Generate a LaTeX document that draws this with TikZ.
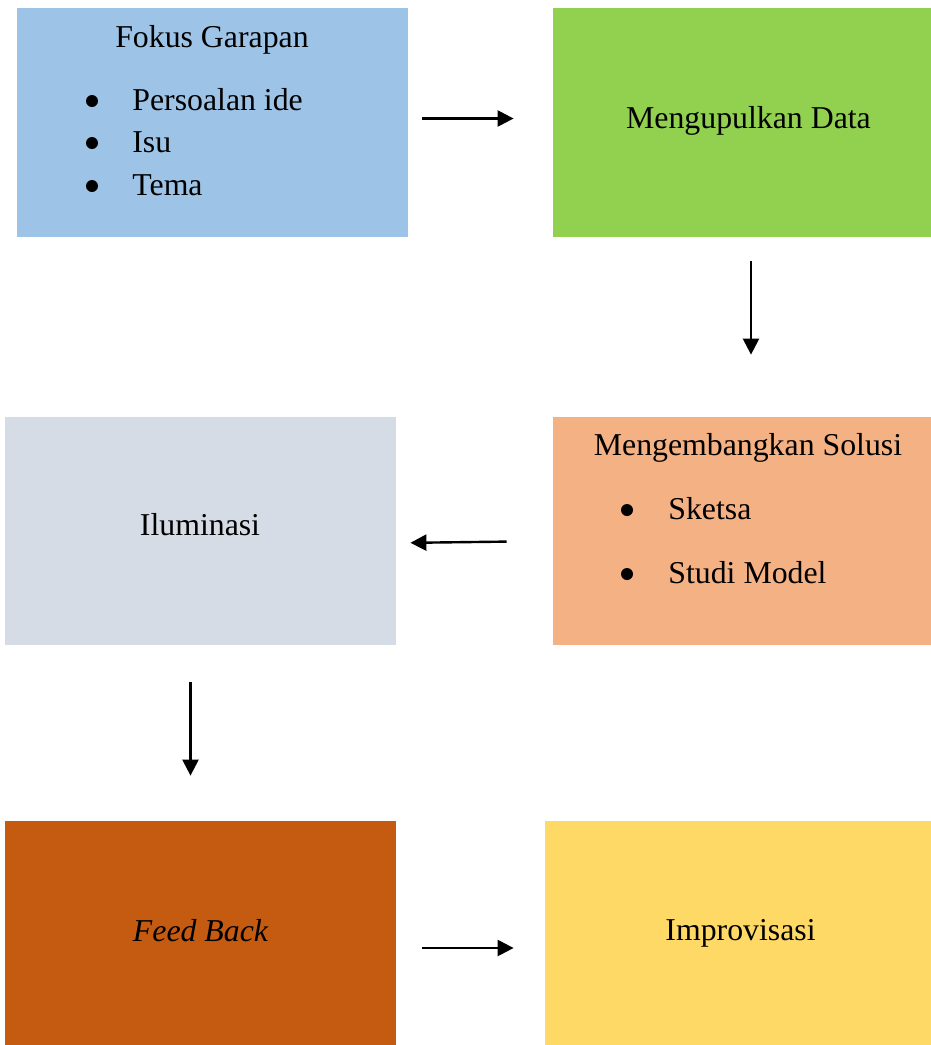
\documentclass[tikz,border=0pt]{standalone}
\usepackage{fontspec}
\setmainfont{Liberation Serif}
\usetikzlibrary{arrows.meta}
\definecolor{fokusblue}{HTML}{9DC3E6}
\definecolor{datagreen}{HTML}{92D050}
\definecolor{solusiorange}{HTML}{F4B183}
\definecolor{ilumgray}{HTML}{D6DCE5}
\definecolor{feedrust}{HTML}{C55A11}
\definecolor{improyellow}{HTML}{FFD966}
\tikzset{
  box/.style={draw=none, inner sep=0pt, minimum width=195.5pt, minimum height=114.5pt},
  flow/.style={-{Triangle[length=8pt,width=8pt]}, line width=1.2pt},
  item/.style={anchor=west, inner sep=0pt},
  dot/.style={circle, fill=black, inner sep=0pt, minimum size=6pt},
}
\begin{document}
\begin{tikzpicture}[x=0.5pt,y=-0.5pt,font=\fontsize{15.9}{19}\selectfont]
    \useasboundingbox (0,0) rectangle (931,1045);
    % boxes
    \node[box,fill=fokusblue] (fokus) at (212.5,122.5) {};
    \node[box,fill=datagreen,minimum width=189pt] (data) at (742,122.5) {};
    \node[box,fill=solusiorange,minimum width=189pt,minimum height=114pt] (solusi) at (742,531) {};
    \node[box,fill=ilumgray,minimum height=114pt] (ilum) at (200.5,531) {};
    \node[box,fill=feedrust,minimum height=112pt] (feed) at (200.5,933) {};
    \node[box,fill=improyellow,minimum width=193pt,minimum height=112pt] (impro) at (738,933) {};
    % texts inside
    \node (dataT) at (748.5,121) {Mengupulkan Data};
    \node (ilumT) at (200,525) {Iluminasi};
    \node (feedT) at (200.5,931) {\itshape Feed Back};
    \node (improT) at (740.5,933) {Improvisasi};
    \node (fokusT) at (212,40) {Fokus Garapan};
    \node[dot] (d1) at (92,101) {};
    \node[item] (i1) at (132,100) {Persoalan ide};
    \node[dot] (d2) at (92,143) {};
    \node[item] (i2) at (132,142) {Isu};
    \node[dot] (d3) at (92,186) {};
    \node[item] (i3) at (132,185) {Tema};
    \node (solusiT) at (748,448) {Mengembangkan Solusi};
    \node[dot] (d4) at (627,510) {};
    \node[item] (i4) at (668,509) {Sketsa};
    \node[dot] (d5) at (627,574) {};
    \node[item] (i5) at (668,573) {Studi Model};
    % arrows
    \draw[flow,shorten <=7pt,shorten >=19.5pt] ([yshift=2pt]fokus.east) -- ([yshift=2pt]data.west);
    \draw[flow,shorten <=12pt,shorten >=31pt] ([xshift=4.5pt]data.south) -- ([xshift=4.5pt]solusi.north);
    \draw[flow,shorten <=23pt,shorten >=7pt] ([yshift=-5pt]solusi.west) -- ([yshift=-6pt]ilum.east);
    \draw[flow,shorten <=18.5pt,shorten >=22.5pt] ([xshift=-5pt]ilum.south) -- ([xshift=-5pt]feed.north);
    \draw[flow,shorten <=13pt,shorten >=15.5pt] ([yshift=-7.5pt]feed.east) -- ([yshift=-7.5pt]impro.west);
\end{tikzpicture}
\end{document}
